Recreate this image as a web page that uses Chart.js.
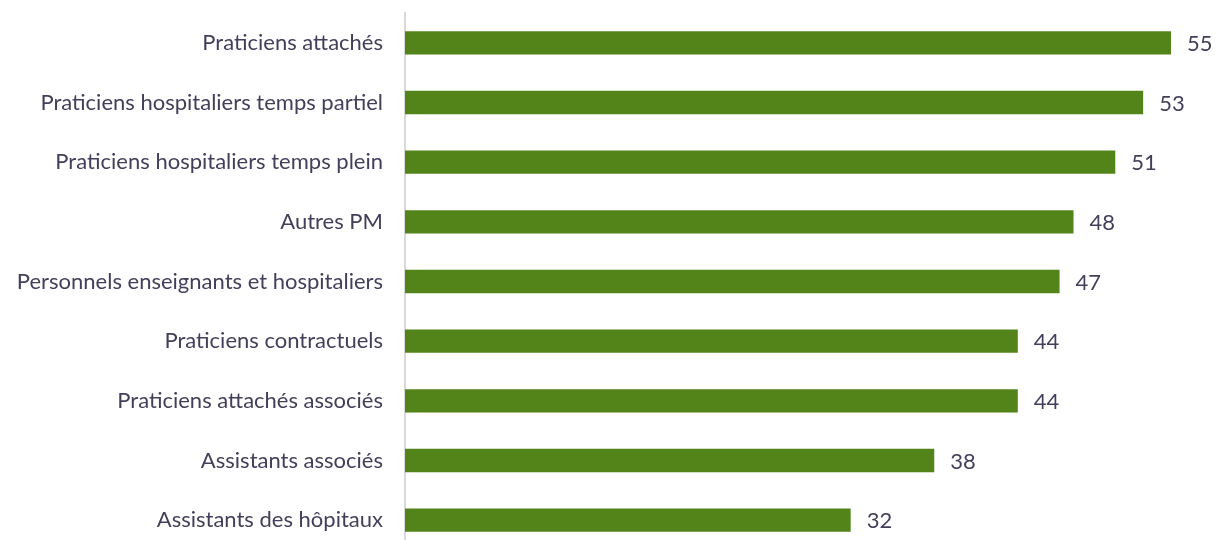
<!DOCTYPE html>
<html>
<head>
<meta charset="utf-8">
<script src="https://cdn.jsdelivr.net/npm/chart.js@4"></script>
<style>
  html, body { margin: 0; padding: 0; background: #fff; overflow: hidden; }
  #boite { width: 1218px; height: 552px; position: relative; }
</style>
</head>
<body>
<div id="boite"><canvas id="graphique"></canvas></div>
<script>
var categories = [
  "Praticiens attachés",
  "Praticiens hospitaliers temps partiel",
  "Praticiens hospitaliers temps plein",
  "Autres PM",
  "Personnels enseignants et hospitaliers",
  "Praticiens contractuels",
  "Praticiens attachés associés",
  "Assistants associés",
  "Assistants des hôpitaux"
]
var valeurs = [55, 53, 51, 48, 47, 44, 44, 38, 32]

var couleurTexte = "#433F5B"
var police = "Lato, 'Open Sans', sans-serif"

// ecrit la valeur au bout de chaque barre
var etiquettes = {
  id: "etiquettes",
  afterDatasetsDraw: function(chart) {
    var ctx = chart.ctx
    var meta = chart.getDatasetMeta(0)
    ctx.save()
    ctx.font = "22px " + police
    ctx.fillStyle = couleurTexte
    ctx.textAlign = "left"
    ctx.textBaseline = "middle"
    meta.data.forEach(function(barre, i) {
      ctx.fillText(valeurs[i], barre.x + 16, barre.y + 1)
    })
    ctx.restore()
  }
}

var ctx = document.getElementById("graphique").getContext("2d")
var monGraphique = new Chart(ctx, {
  type: "bar",
  data: {
    labels: categories,
    datasets: [{
      data: valeurs,
      backgroundColor: "#538419",
      borderWidth: 0,
      categoryPercentage: 1,
      barPercentage: 0.39
    }]
  },
  plugins: [etiquettes],
  options: {
    indexAxis: "y",
    responsive: true,
    maintainAspectRatio: false,
    animation: false,
    layout: { padding: { top: 13, right: 47, bottom: 2, left: 0 } },
    plugins: {
      legend: { display: false },
      tooltip: { enabled: false }
    },
    scales: {
      x: { display: false, min: 0, max: 55 },
      y: {
        // largeur fixe pour la colonne des libelles, sans marge haut/bas
        afterFit: function(scale) {
          scale.width = 405
          scale.paddingTop = 0
          scale.paddingBottom = 0
        },
        grid: { display: false, drawTicks: false },
        border: { display: true, color: "#D9D9D9", width: 2 },
        ticks: {
          color: couleurTexte,
          padding: 22,
          font: { family: police, size: 22 }
        }
      }
    }
  }
})
</script>
</body>
</html>
